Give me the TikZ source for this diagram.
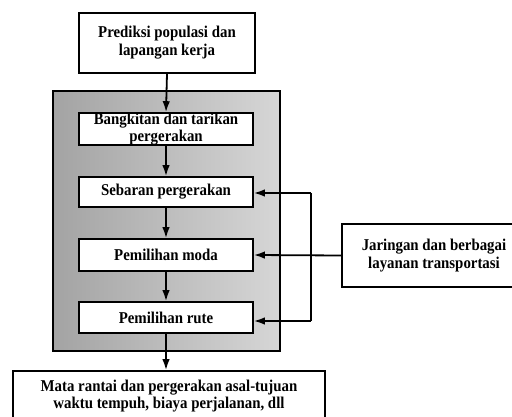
\documentclass[tikz,border=0pt]{standalone}
\usepackage{fontspec}
\setmainfont{Liberation Serif}
\newfontfamily\lblfont[FakeStretch=0.9]{Liberation Serif}
\usetikzlibrary{arrows.meta,calc}
\begin{document}
\begin{tikzpicture}[x=1pt,y=-1pt,
  box/.style={draw=black,line width=1.6pt,fill=white,inner sep=0pt,align=center,
    font=\lblfont\bfseries\fontsize{16.5}{18}\selectfont},
  flow/.style={line width=1.8pt,-{Latex[length=11pt,width=7.5pt]}},
  link/.style={line width=1.8pt}]
\useasboundingbox (0,0) rectangle (512,417);
\clip (0,0) rectangle (512,417);
\node[draw=black,line width=1.6pt,left color=black!36,right color=black!16,minimum width=227pt,minimum height=260pt,inner sep=0pt] (grp) at (166.5,221) {};
\node[box,minimum width=176pt,minimum height=60pt] (top) at (167,43) {Prediksi populasi dan\\lapangan kerja};
\node[box,minimum width=174pt,minimum height=32pt] (bang) at (166,129) {Bangkitan dan tarikan\\[-1.5pt]pergerakan};
\node[box,minimum width=174pt,minimum height=30pt] (seb) at (166,192) {Sebaran pergerakan};
\node[box,minimum width=174pt,minimum height=32pt] (moda) at (166,255) {Pemilihan moda};
\node[box,minimum width=174pt,minimum height=31pt] (rute) at (166,317.5) {Pemilihan rute};
\node[box,minimum width=184pt,minimum height=63pt] (jar) at (434,255.5) {Jaringan dan berbagai\\layanan transportasi};
\node[box,minimum width=312pt,minimum height=50pt] (hasil) at (169,396) {Mata rantai dan pergerakan asal-tujuan\\[-1pt]waktu tempuh, biaya perjalanan, dll};
\coordinate (vt) at (311,193);
\coordinate (vb) at (311,321);
\draw[flow] (top.south) -- (bang.north);
\draw[flow] (bang.south) -- (seb.north);
\draw[flow] (seb.south) -- (moda.north);
\draw[flow] (moda.south) -- (rute.north);
\draw[flow] (rute.south) -- (rute.south |- hasil.north);
\draw[flow] (jar.west) -- (moda.east);
\draw[link] (vt) -- (vb);
\draw[flow] (vt) -- (vt -| seb.east);
\draw[flow] (vb) -- (vb -| rute.east);
\end{tikzpicture}
\end{document}
